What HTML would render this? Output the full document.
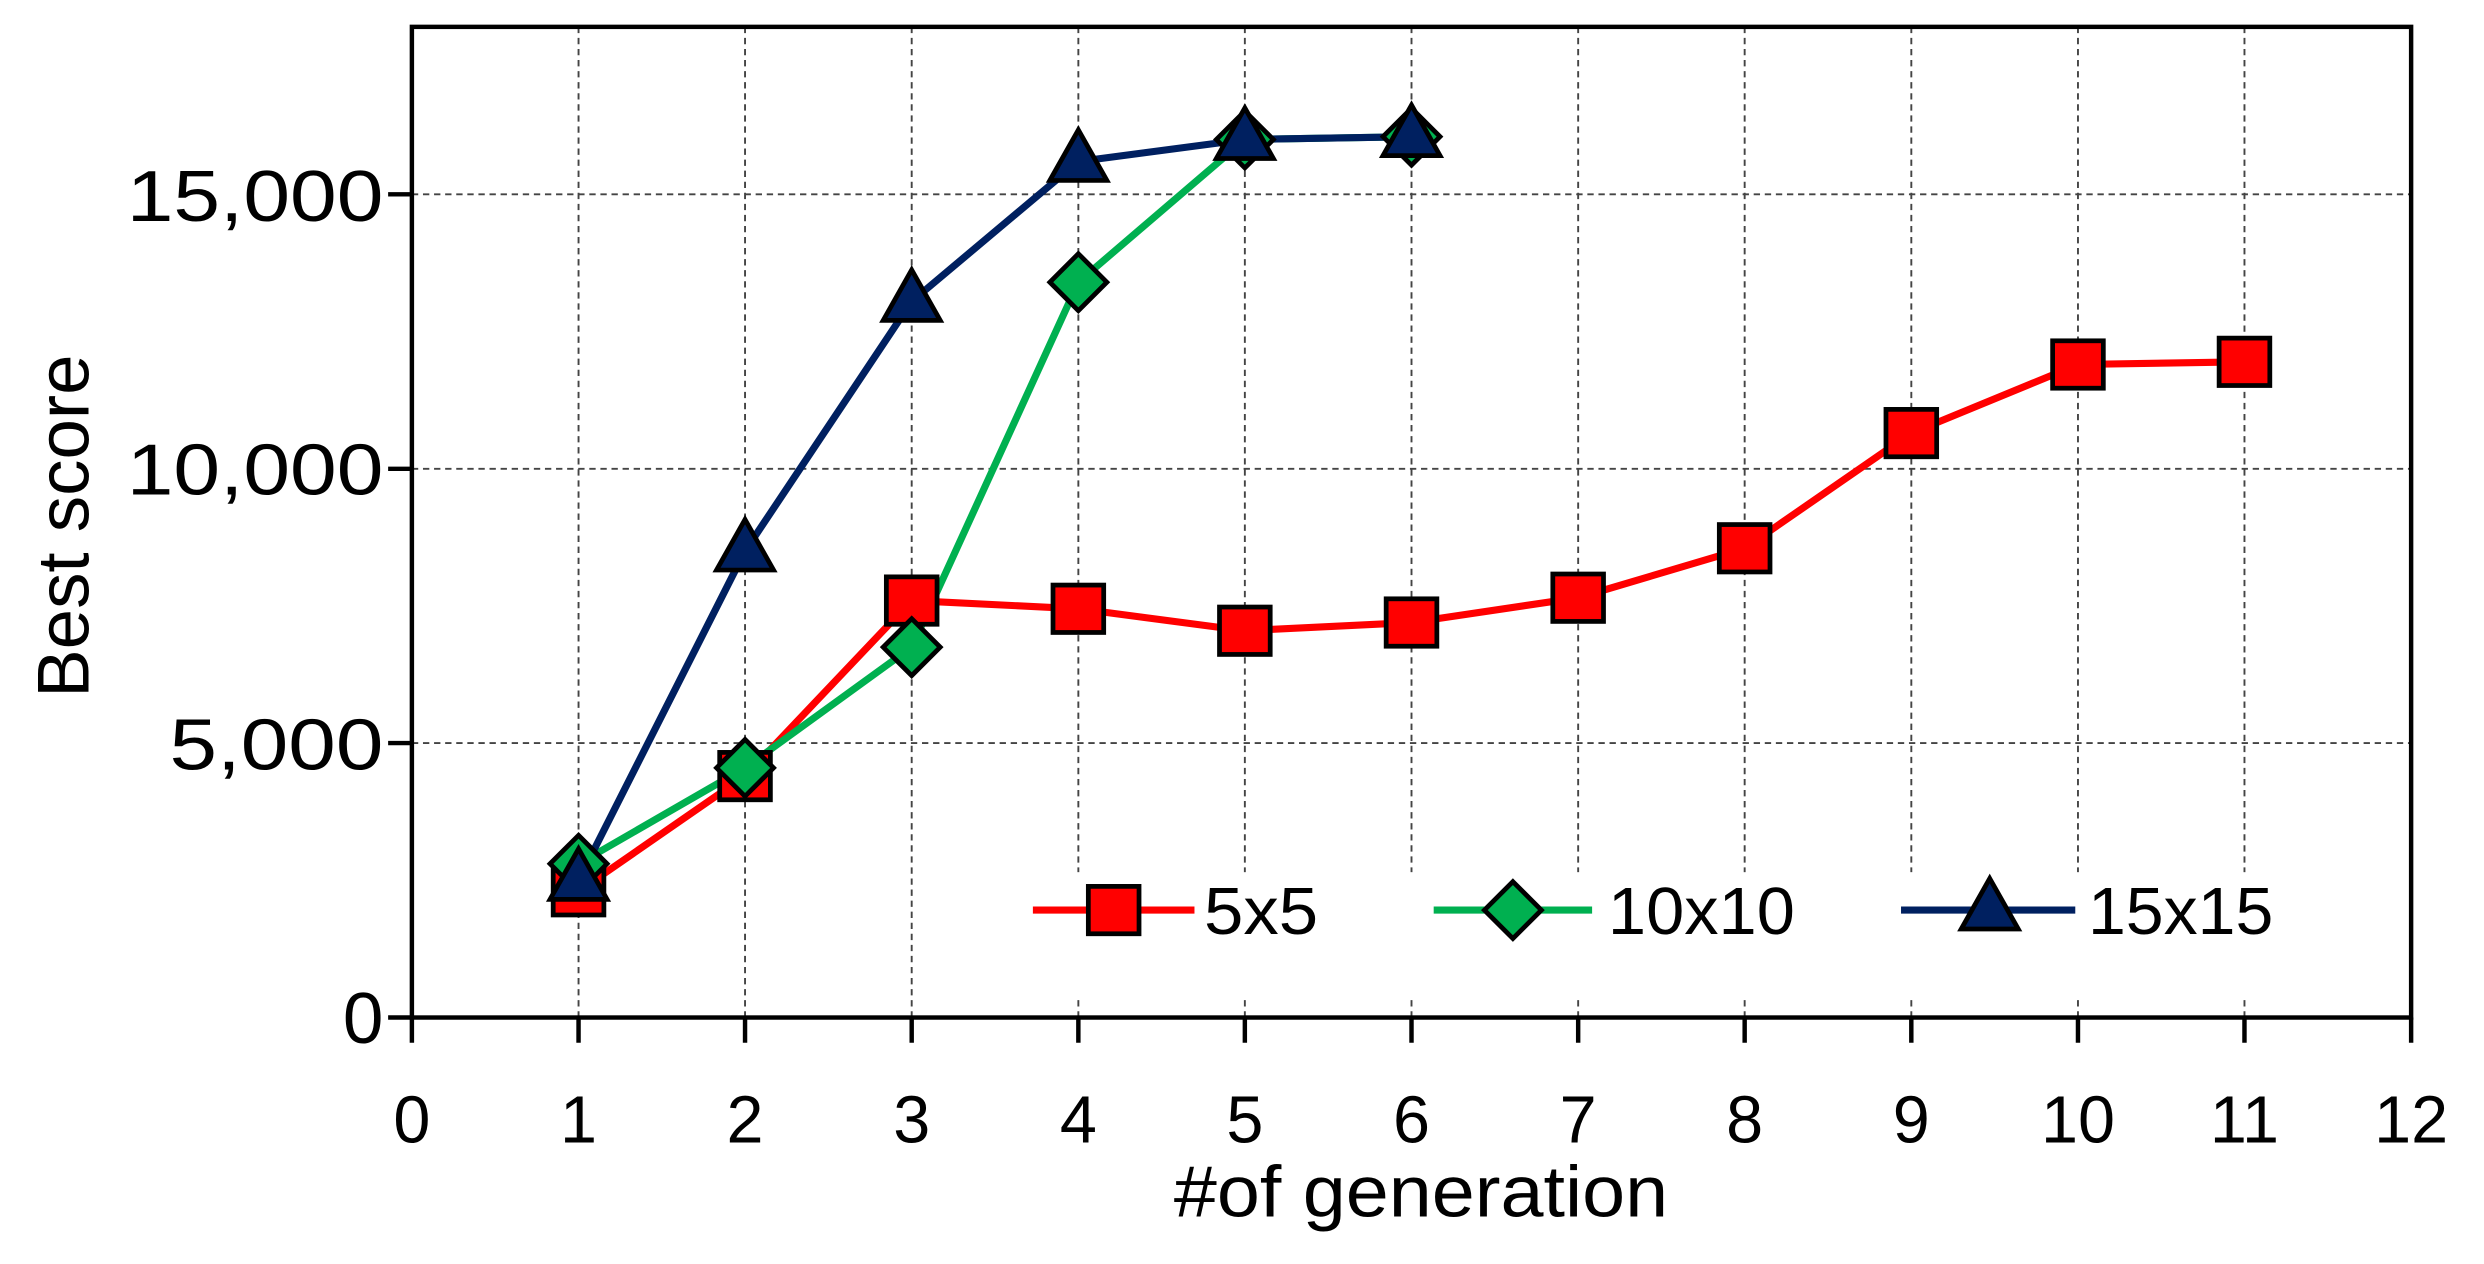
<!DOCTYPE html>
<html><head><meta charset="utf-8"><style>html,body{margin:0;padding:0;background:#fff}svg{display:block}</style></head>
<body>
<svg width="2484" height="1264" viewBox="0 0 1568 800" preserveAspectRatio="none" xmlns="http://www.w3.org/2000/svg" font-family="Liberation Sans, sans-serif">
<rect width="1568" height="800" fill="#fff"/>
<g stroke="#444" stroke-width="1.2" stroke-dasharray="4,3">
<line x1="365.2" y1="17" x2="365.2" y2="644"/><line x1="470.3" y1="17" x2="470.3" y2="644"/><line x1="575.5" y1="17" x2="575.5" y2="644"/><line x1="680.7" y1="17" x2="680.7" y2="644"/><line x1="785.8" y1="17" x2="785.8" y2="644"/><line x1="891" y1="17" x2="891" y2="644"/><line x1="996.2" y1="17" x2="996.2" y2="644"/><line x1="1101.3" y1="17" x2="1101.3" y2="644"/><line x1="1206.5" y1="17" x2="1206.5" y2="644"/><line x1="1311.7" y1="17" x2="1311.7" y2="644"/><line x1="1416.8" y1="17" x2="1416.8" y2="644"/>
<line x1="260" y1="470.3" x2="1522" y2="470.3"/><line x1="260" y1="296.7" x2="1522" y2="296.7"/><line x1="260" y1="123" x2="1522" y2="123"/>
</g>
<rect x="640" y="552" width="820" height="80" fill="#fff"/>
<g stroke="#000" stroke-width="2.8" fill="none">
<rect x="260" y="17" width="1262" height="627"/>
<path d="M245 644H260M245 470.3H260M245 296.7H260M245 123H260"/>
<path d="M260 644v16M365.2 644v16M470.3 644v16M575.5 644v16M680.7 644v16M785.8 644v16M891 644v16M996.2 644v16M1101.3 644v16M1206.5 644v16M1311.7 644v16M1416.8 644v16M1522 644v16"/>
</g>
<g font-size="46" text-anchor="end" fill="#000">
<text x="242" y="660">0</text>
<text x="242" y="487" textLength="135" lengthAdjust="spacingAndGlyphs">5,000</text>
<text x="242" y="313" textLength="162" lengthAdjust="spacingAndGlyphs">10,000</text>
<text x="242" y="140" textLength="162" lengthAdjust="spacingAndGlyphs">15,000</text>
</g>
<g font-size="42" text-anchor="middle" fill="#000">
<text x="260" y="723">0</text><text x="365.2" y="723">1</text><text x="470.3" y="723">2</text><text x="575.5" y="723">3</text><text x="680.7" y="723">4</text><text x="785.8" y="723">5</text><text x="891" y="723">6</text><text x="996.2" y="723">7</text><text x="1101.3" y="723">8</text><text x="1206.5" y="723">9</text><text x="1311.7" y="723">10</text><text x="1416.8" y="723">11</text><text x="1522" y="723">12</text>
</g>
<text x="741" y="770" font-size="46" textLength="312" lengthAdjust="spacingAndGlyphs">#of generation</text>
<text transform="translate(56,333) rotate(-90)" font-size="46" text-anchor="middle">Best score</text>
<defs>
<rect id="sq" x="-16" y="-15" width="32" height="30" fill="#f00" stroke="#000" stroke-width="3"/>
<path id="dm" d="M0-18L18 0L0 18L-18 0Z" fill="#00b050" stroke="#000" stroke-width="3"/>
<path id="tr" d="M0-20L18 12H-18Z" fill="#002060" stroke="#000" stroke-width="3"/>
</defs>
<polyline fill="none" stroke="#f00" stroke-width="4.5" points="365.2,564.1 470.3,491.2 575.5,380.1 680.7,385.3 785.8,399.2 891,394 996.2,378.3 1101.3,347 1206.5,274.1 1311.7,230.7 1416.8,229"/>
<polyline fill="none" stroke="#00b050" stroke-width="4.5" points="365.2,546.7 470.3,486 575.5,409.6 680.7,178.6 785.8,88.3 891,86.5"/>
<polyline fill="none" stroke="#002060" stroke-width="4.5" points="365.2,557.2 470.3,348.8 575.5,190.8 680.7,102.2 785.8,88.3 891,86.5"/>
<g><use href="#sq" x="365.2" y="564.1"/><use href="#sq" x="470.3" y="491.2"/><use href="#sq" x="575.5" y="380.1"/><use href="#sq" x="680.7" y="385.3"/><use href="#sq" x="785.8" y="399.2"/><use href="#sq" x="891" y="394"/><use href="#sq" x="996.2" y="378.3"/><use href="#sq" x="1101.3" y="347"/><use href="#sq" x="1206.5" y="274.1"/><use href="#sq" x="1311.7" y="230.7"/><use href="#sq" x="1416.8" y="229"/></g>
<g><use href="#dm" x="365.2" y="546.7"/><use href="#dm" x="470.3" y="486"/><use href="#dm" x="575.5" y="409.6"/><use href="#dm" x="680.7" y="178.6"/><use href="#dm" x="785.8" y="88.3"/><use href="#dm" x="891" y="86.5"/></g>
<g><use href="#tr" x="365.2" y="557.2"/><use href="#tr" x="470.3" y="348.8"/><use href="#tr" x="575.5" y="190.8"/><use href="#tr" x="680.7" y="102.2"/><use href="#tr" x="785.8" y="88.3"/><use href="#tr" x="891" y="86.5"/></g>
<line x1="652" y1="576" x2="754" y2="576" stroke="#f00" stroke-width="4.5"/><use href="#sq" x="703" y="576"/>
<text x="760" y="591" font-size="42" textLength="72" lengthAdjust="spacingAndGlyphs">5x5</text>
<line x1="905" y1="576" x2="1005" y2="576" stroke="#00b050" stroke-width="4.5"/><use href="#dm" x="955" y="576"/>
<text x="1015" y="591" font-size="42" textLength="118" lengthAdjust="spacingAndGlyphs">10x10</text>
<line x1="1200" y1="576" x2="1310" y2="576" stroke="#002060" stroke-width="4.5"/><use href="#tr" x="1256" y="576"/>
<text x="1318" y="591" font-size="42" textLength="117" lengthAdjust="spacingAndGlyphs">15x15</text>
</svg>
</body></html>
